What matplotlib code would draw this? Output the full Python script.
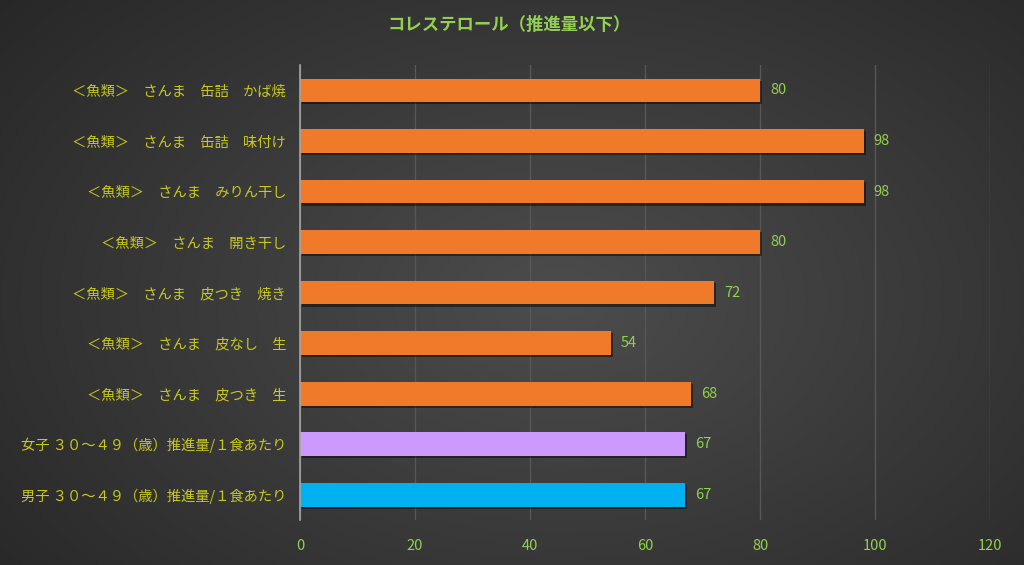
import numpy as np
import matplotlib
matplotlib.use("Agg")
import matplotlib.pyplot as plt
import matplotlib.patheffects as pe

plt.rcParams['font.family'] = ['Noto Sans CJK JP', 'DejaVu Sans']

categories = [
    "男子 ３０～４９（歳）推進量/１食あたり",
    "女子 ３０～４９（歳）推進量/１食あたり",
    "＜魚類＞　さんま　皮つき　生",
    "＜魚類＞　さんま　皮なし　生",
    "＜魚類＞　さんま　皮つき　焼き",
    "＜魚類＞　さんま　開き干し",
    "＜魚類＞　さんま　みりん干し",
    "＜魚類＞　さんま　缶詰　味付け",
    "＜魚類＞　さんま　缶詰　かば焼",
]
values = [67, 67, 68, 54, 72, 80, 98, 98, 80]
bar_colors = ["#00b0f0", "#cc99ff", "#f07a2a", "#f07a2a", "#f07a2a",
              "#f07a2a", "#f07a2a", "#f07a2a", "#f07a2a"]
xticks = [0, 20, 40, 60, 80, 100, 120]
title = "コレステロール（推進量以下）"

fig = plt.figure(figsize=(10.24, 5.65), dpi=100)

# background gradient
bg = fig.add_axes([0, 0, 1, 1])
h, w = 565, 1024
yy, xx = np.mgrid[0:h, 0:w]
cx, cy = 560, 300
d = np.sqrt(((xx - cx) / 700.0) ** 2 + ((yy - cy) / 450.0) ** 2)
val = 0.30 - 0.14 * np.clip(d, 0, 1.3)
img = np.dstack([val, val, val])
bg.imshow(img, aspect='auto', extent=[0, 1, 0, 1], origin='upper')
bg.axis('off')
bg.set_zorder(-10)

ax = fig.add_axes([0.293, 0.0796, 0.674, 0.805])
ax.patch.set_alpha(0)
y = np.arange(len(categories))
bars = ax.barh(y, values, height=0.47, color=bar_colors, zorder=3,
               edgecolor='none')
for b in bars:
    b.set_path_effects([pe.withSimplePatchShadow(offset=(1.5, -1.5), shadow_rgbFace='black', alpha=0.45)])

for yi, v in zip(y, values):
    ax.text(v + 1.75, yi, str(v), va='center', ha='left', color='#92d050', fontsize=10.5)

ax.set_xlim(0, 120)
ax.set_ylim(-0.5, len(categories) - 0.5)
ax.set_xticks(xticks)
ax.set_xticklabels([str(t) for t in xticks], color='#92d050', fontsize=10.5)
ax.set_yticks(y)
ax.set_yticklabels(categories, color='#c8c81e', fontsize=10.3)
ax.tick_params(axis='both', length=0)
ax.tick_params(axis='y', pad=10)
ax.tick_params(axis='x', pad=14)
ax.grid(axis='x', color='#575757', linewidth=1, zorder=0)
for s in ['top', 'right', 'bottom']:
    ax.spines[s].set_visible(False)
ax.spines['left'].set_color('#a6a6a6')
ax.spines['left'].set_linewidth(1.2)
ax.spines['left'].set_zorder(4)

fig.text(0.497, 0.955, title, ha='center', va='center', color='#92d050',
         fontsize=12.5, fontweight='bold')

fig.savefig("out.png", dpi=100)
